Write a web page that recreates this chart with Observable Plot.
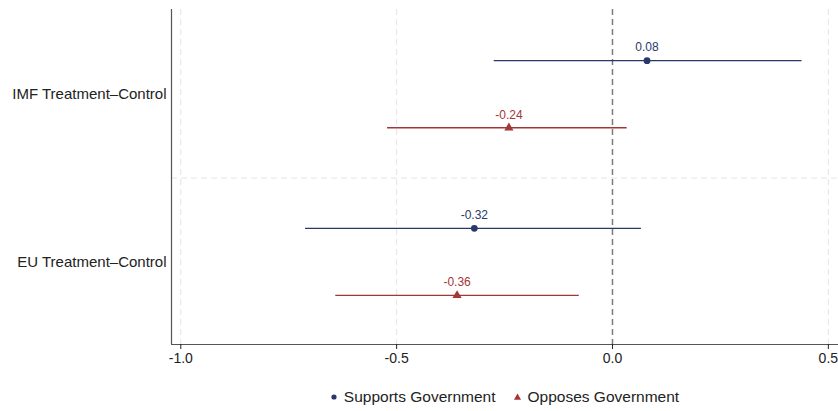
<!DOCTYPE html>
<html>
<head>
<meta charset="utf-8">
<script src="https://cdn.jsdelivr.net/npm/d3@7"></script>
<script src="https://cdn.jsdelivr.net/npm/@observablehq/plot@0.6"></script>
<style>
  html, body { margin: 0; padding: 0; background: #fff; }
  body { width: 838px; font-family: "Liberation Sans", Arial, Helvetica, sans-serif; }
  #legend {
    height: 41px;
    margin-left: 171px;
    display: flex;
    justify-content: center;
    align-items: center;
    gap: 17px;
    padding-top: 13px;
    box-sizing: border-box;
    font-size: 15.5px;
    color: #222;
  }
  #legend .item { display: flex; align-items: center; gap: 6px; }
</style>
</head>
<body>
<div id="chart"></div>
<div id="legend"></div>
<script>
// Treatment effects with confidence intervals, by respondent stance
const groups = ["IMF Treatment–Control", "EU Treatment–Control"];
const series = ["Supports Government", "Opposes Government"];
const seriesColors = ["#27386b", "#a33636"];
const seriesSymbols = ["circle", "triangle"];

// one entry per group × series, in order IMF/Supports, IMF/Opposes, EU/Supports, EU/Opposes
const estimates = [0.08, -0.24, -0.32, -0.36];
const lower = [-0.274, -0.521, -0.711, -0.641];
const upper = [0.439, 0.034, 0.067, -0.077];

const xTicks = [-1.0, -0.5, 0.0, 0.5];
const xGrid = [-1.0, -0.5, 0.5];
const xDomain = [-1.0215, 0.5235];
const yDomain = [-0.505, 1.4925];

// within-group offset of each series row
const seriesOffset = [-0.2, 0.2];

const rows = estimates.map((est, i) => {
  const g = Math.floor(i / 2), s = i % 2;
  return {
    group: groups[g],
    series: series[s],
    y: g + seriesOffset[s],
    est, lo: lower[i], hi: upper[i]
  };
});

const fmt2 = v => v.toFixed(2);

const chart = Plot.plot({
  width: 838,
  height: 370,
  marginLeft: 171,
  marginRight: 0,
  marginTop: 9,
  marginBottom: 26,
  style: { fontFamily: '"Liberation Sans", Arial, sans-serif', fontSize: "14px", color: "#222", background: "#fff" },
  x: { domain: xDomain, label: null },
  y: { domain: yDomain, reverse: true, label: null },
  color: { domain: series, range: seriesColors },
  symbol: { domain: series, range: seriesSymbols },
  marks: [
    // light dashed grid
    Plot.ruleX(xGrid, { stroke: "#e4e4e4", strokeWidth: 1, strokeDasharray: "6,4" }),
    Plot.ruleY([0.5], { stroke: "#e4e4e4", strokeWidth: 1, strokeDasharray: "6,4" }),
    // reference line at zero
    Plot.ruleX([0], { stroke: "#7a7a7a", strokeWidth: 1.5, strokeDasharray: "6,4" }),
    // axis lines
    Plot.ruleX([xDomain[0]], { stroke: "#555", strokeWidth: 1.2 }),
    Plot.ruleY([yDomain[1]], { stroke: "#555", strokeWidth: 1.2 }),
    // group labels on the y axis
    Plot.axisY({ ticks: [0, 1], tickFormat: i => groups[i], tickSize: 0, tickPadding: 5, fontSize: 15, label: null }),
    Plot.axisX({ ticks: xTicks, tickFormat: d => d.toFixed(1), tickSize: 5, tickPadding: 4, label: null }),
    // confidence intervals
    Plot.ruleY(rows, { y: "y", x1: "lo", x2: "hi", stroke: "series", strokeWidth: 1.3 }),
    // point estimates
    Plot.dot(rows, { x: "est", y: "y", fill: "series", symbol: "series", r: 3.4, stroke: null }),
    // value labels
    Plot.text(rows, { x: "est", y: "y", text: d => fmt2(d.est), fill: "series", dy: -13, fontSize: 12 })
  ]
});
document.getElementById("chart").appendChild(chart);

// legend
const legend = document.getElementById("legend");
series.forEach((name, i) => {
  const item = document.createElement("div");
  item.className = "item";
  const sym = i === 0
    ? `<svg width="8" height="8"><circle cx="4" cy="4" r="2.6" fill="${seriesColors[i]}"/></svg>`
    : `<svg width="9" height="8"><path d="${d3.symbol(d3.symbolTriangle, 22)()}" transform="translate(4.5,4.6)" fill="${seriesColors[i]}"/></svg>`;
  item.innerHTML = sym + `<span>${name}</span>`;
  legend.appendChild(item);
});
</script>
</body>
</html>
